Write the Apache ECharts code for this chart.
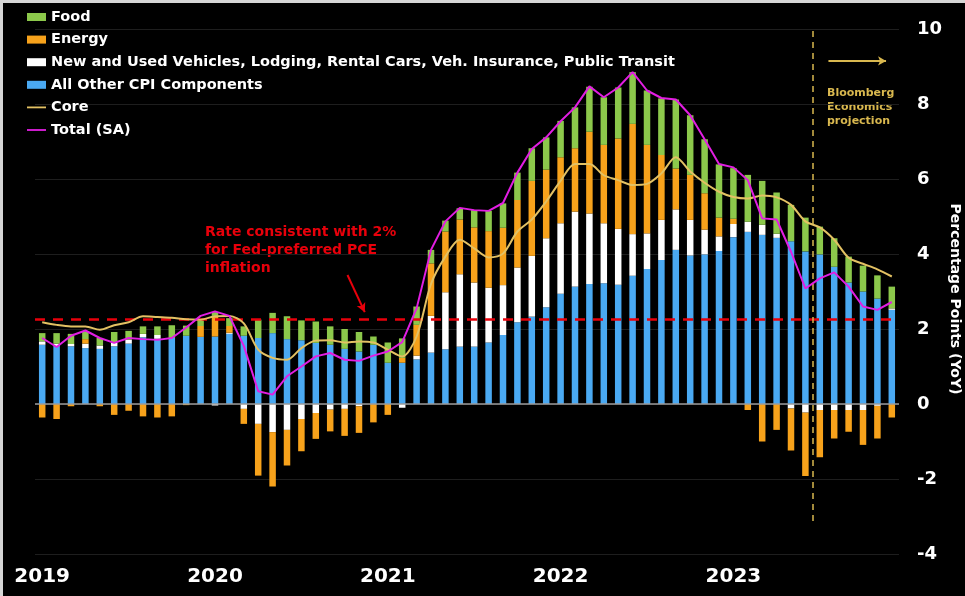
<!DOCTYPE html>
<html>
<head>
<meta charset="utf-8">
<script src="https://cdn.jsdelivr.net/npm/echarts@6/dist/echarts.min.js"></script>
<style>
  html, body { margin: 0; padding: 0; background: #000; }
  #main {
    position: absolute; left: 0; top: 0;
    width: 962px; height: 593px;
    border-left: 3px solid #d6d6d6;
    border-top: 3px solid #d6d6d6;
    background: #000;
  }
</style>
</head>
<body>
<div id="main"></div>
<script>
// months Jan 2019 .. Dec 2023
var months = [];
for (var y = 2019; y <= 2023; y++) {
  for (var m = 1; m <= 12; m++) months.push(y + "-" + (m < 10 ? "0" + m : m));
}

// contributions, percentage points
var allOther = [
  1.58, 1.54, 1.54, 1.49, 1.47, 1.54, 1.61, 1.78, 1.74, 1.76, 1.82, 1.79,
  1.80, 1.87, 1.82, 1.76, 1.89, 1.73, 1.70, 1.63, 1.58, 1.47, 1.40, 1.58,
  1.10, 1.10, 1.19, 1.37, 1.46, 1.53, 1.53, 1.64, 1.84, 2.18, 2.33, 2.58,
  2.94, 3.13, 3.20, 3.22, 3.18, 3.42, 3.60, 3.84, 4.11, 3.96, 3.99, 4.08,
  4.45, 4.59, 4.51, 4.43, 4.34, 4.07, 3.99, 3.66, 3.24, 3.00, 2.81, 2.51
];
var vehicles = [
  0.09, 0.07, 0.06, 0.12, 0.09, 0.09, 0.10, 0.09, 0.10, 0, 0, 0,
  -0.04, 0.03, -0.13, -0.53, -0.75, -0.69, -0.40, -0.24, -0.15, -0.13, -0.06, 0,
  0, -0.10, 0.10, 0.98, 1.52, 1.93, 1.71, 1.46, 1.33, 1.46, 1.62, 1.84,
  1.88, 2.00, 1.88, 1.60, 1.49, 1.11, 0.95, 1.07, 1.08, 0.95, 0.66, 0.39,
  0.35, 0.27, 0.27, 0.11, -0.12, -0.23, -0.16, -0.16, -0.16, -0.16, -0.05, 0.04
];
var energy = [
  -0.36, -0.40, -0.06, 0.12, -0.06, -0.29, -0.18, -0.33, -0.36, -0.33, -0.03, 0.29,
  0.55, 0.18, -0.40, -1.38, -1.45, -0.95, -0.86, -0.69, -0.58, -0.72, -0.71, -0.49,
  -0.29, 0.13, 0.82, 1.40, 1.62, 1.46, 1.47, 1.51, 1.53, 1.80, 2.00, 1.83,
  1.76, 1.69, 2.18, 2.09, 2.41, 2.94, 2.36, 1.73, 1.09, 1.20, 0.97, 0.50,
  0.14, -0.16, -1.00, -0.69, -1.12, -1.69, -1.26, -0.76, -0.58, -0.93, -0.87, -0.36
];
var food = [
  0.22, 0.28, 0.27, 0.21, 0.20, 0.29, 0.24, 0.20, 0.23, 0.34, 0.27, 0.17,
  0.10, 0.21, 0.25, 0.49, 0.54, 0.61, 0.53, 0.57, 0.49, 0.53, 0.52, 0.22,
  0.54, 0.52, 0.49, 0.36, 0.29, 0.30, 0.46, 0.54, 0.65, 0.73, 0.87, 0.86,
  0.97, 1.09, 1.20, 1.27, 1.36, 1.38, 1.45, 1.51, 1.84, 1.59, 1.44, 1.42,
  1.35, 1.25, 1.17, 1.10, 0.97, 0.90, 0.74, 0.76, 0.69, 0.69, 0.62, 0.58
];
var core = [
  2.18, 2.11, 2.07, 2.07, 1.98, 2.10, 2.18, 2.34, 2.32, 2.30, 2.26, 2.25,
  2.34, 2.35, 2.15, 1.45, 1.23, 1.18, 1.49, 1.69, 1.70, 1.64, 1.67, 1.64,
  1.45, 1.27, 1.80, 3.20, 3.93, 4.38, 4.15, 3.91, 4.01, 4.60, 4.92, 5.40,
  5.95, 6.40, 6.40, 6.10, 5.97, 5.84, 5.87, 6.15, 6.58, 6.20, 5.90, 5.66,
  5.52, 5.48, 5.56, 5.51, 5.31, 4.87, 4.71, 4.38, 3.90, 3.74, 3.59, 3.40
];
var total = [
  1.76, 1.52, 1.82, 1.96, 1.76, 1.63, 1.76, 1.73, 1.71, 1.76, 2.04, 2.35,
  2.47, 2.35, 1.55, 0.34, 0.25, 0.74, 1.00, 1.27, 1.36, 1.18, 1.15, 1.29,
  1.40, 1.65, 2.55, 4.11, 4.87, 5.23, 5.17, 5.15, 5.36, 6.17, 6.80, 7.11,
  7.54, 7.91, 8.47, 8.18, 8.44, 8.85, 8.36, 8.16, 8.12, 7.70, 7.06, 6.40,
  6.31, 5.97, 4.95, 4.92, 4.06, 3.08, 3.35, 3.51, 3.13, 2.60, 2.51, 2.72
];

var yTicks = { min: -4, max: 10, step: 2 };
var fedRate = 2.27;
var projectionStart = 54; // Jul 2023

var boldFont = "DejaVu Sans";
var colors = {
  food: "#8cc84b",
  energy: "#f7a21b",
  vehicles: "#ffffff",
  other: "#4aa9f2",
  core: "#e3c163",
  total: "#e21ee2",
  red: "#e8000b",
  gold: "#d9b84f"
};

var chart = echarts.init(document.getElementById("main"));

function barSeries(name, data, color) {
  return {
    name: name,
    type: "bar",
    stack: "cpi",
    barWidth: 6.5,
    data: data,
    itemStyle: { color: color },
    emphasis: { disabled: true }
  };
}

var lineIcon = "path://M0,0 L21,0 L21,2 L0,2 Z";

var option = {
  backgroundColor: "#000",
  animation: false,
  grid: { left: 32, right: 66, top: 26, bottom: 42 },
  legend: {
    orient: "vertical",
    left: 24,
    top: 6.5,
    padding: 0,
    itemGap: 7.6,
    itemWidth: 19,
    itemHeight: 8,
    textStyle: { color: "#fff", fontSize: 14.5, lineHeight: 15, fontWeight: "bold", fontFamily: boldFont },
    data: [
      { name: "Food", icon: "rect" },
      { name: "Energy", icon: "rect" },
      { name: "New and Used Vehicles, Lodging, Rental Cars, Veh. Insurance, Public Transit", icon: "rect" },
      { name: "All Other CPI Components", icon: "rect" },
      { name: "Core", icon: lineIcon },
      { name: "Total (SA)", icon: lineIcon }
    ]
  },
  xAxis: [
    {
      type: "category",
      data: months,
      axisLine: { show: false, onZero: false },
      axisTick: { show: false },
      axisLabel: {
        color: "#fff",
        fontSize: 20,
        fontWeight: "bold",
        fontFamily: boldFont,
        margin: 13,
        interval: function (i) { return i % 12 === 0; },
        formatter: function (v) { return v.slice(0, 4); }
      }
    },
    { type: "value", min: 0, max: 60, show: false }
  ],
  yAxis: {
    type: "value",
    position: "right",
    min: yTicks.min,
    max: yTicks.max,
    interval: yTicks.step,
    axisLine: { show: false },
    axisTick: { show: false },
    axisLabel: {
      color: "#fff",
      fontSize: 18,
      fontWeight: "bold",
      fontFamily: boldFont,
      margin: 18,
      align: "left"
    },
    splitLine: { lineStyle: { color: "#1e1e1e", width: 1 } }
  },
  graphic: [
    {
      type: "text",
      x: 952, y: 296,
      rotation: -Math.PI / 2,
      style: {
        text: "Percentage Points (YoY)",
        fill: "#fff",
        font: "bold 14px DejaVu Sans",
        align: "center",
        verticalAlign: "middle"
      }
    },
    {
      type: "text",
      left: 202, top: 220,
      style: {
        text: "Rate consistent with 2%\nfor Fed-preferred PCE\ninflation",
        fill: colors.red,
        font: "bold 14px DejaVu Sans",
        lineHeight: 18
      }
    },
    {
      type: "text",
      left: 824, top: 83,
      style: {
        text: "Bloomberg\nEconomics\nprojection",
        fill: colors.gold,
        font: "bold 11px DejaVu Sans",
        lineHeight: 14
      }
    }
  ],
  series: [
    barSeries("All Other CPI Components", allOther, colors.other),
    barSeries("New and Used Vehicles, Lodging, Rental Cars, Veh. Insurance, Public Transit", vehicles, colors.vehicles),
    barSeries("Energy", energy, colors.energy),
    barSeries("Food", food, colors.food),
    {
      name: "Core",
      type: "line",
      data: core,
      symbol: "none",
      smooth: 0.3,
      lineStyle: { color: colors.core, width: 2 },
      itemStyle: { color: colors.core },
      z: 5
    },
    {
      name: "Total (SA)",
      type: "line",
      data: total,
      symbol: "none",
      lineStyle: { color: colors.total, width: 2 },
      itemStyle: { color: colors.total },
      z: 6
    },
    {
      // reference lines and annotations
      name: "annot",
      type: "line",
      xAxisIndex: 1,
      yAxisIndex: 0,
      data: [],
      silent: true,
      z: 4,
      markLine: {
        silent: true,
        animation: false,
        label: { show: false },
        symbol: ["none", "none"],
        data: [
          { yAxis: 0, lineStyle: { color: "#9a9a9a", width: 1.5, type: "solid" } },
          { yAxis: fedRate, lineStyle: { color: colors.red, width: 2.5, type: [10, 8] } },
          [
            { coord: [projectionStart, 9.95], lineStyle: { color: colors.gold, width: 1.5, type: [6, 5] } },
            { coord: [projectionStart, -3.2] }
          ],
          [
            { coord: [55.1, 9.15], symbol: "none", lineStyle: { color: colors.gold, width: 2, type: "solid" } },
            { coord: [59.1, 9.15], symbol: "arrow", symbolSize: [7, 8] }
          ],
          [
            { coord: [21.7, 3.44], symbol: "none", lineStyle: { color: colors.red, width: 2, type: "solid" } },
            { coord: [22.9, 2.45], symbol: "arrow", symbolSize: [7, 9] }
          ]
        ]
      }
    }
  ]
};

chart.setOption(option);
</script>
</body>
</html>
